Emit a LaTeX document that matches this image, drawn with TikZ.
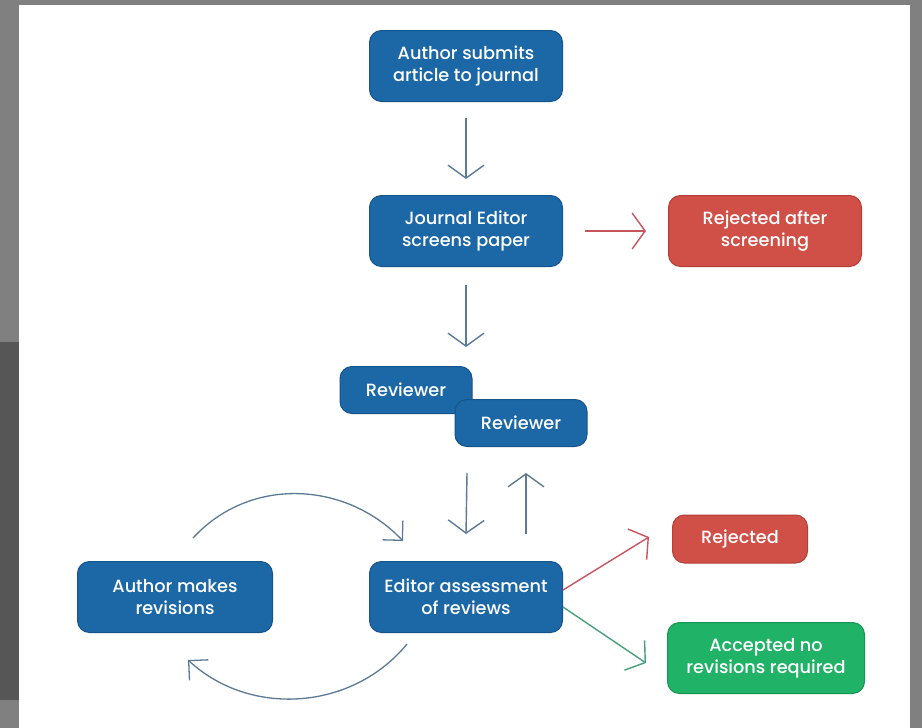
\documentclass[tikz,border=0pt]{standalone}
\usepackage{fontspec}
\setmainfont{Poppins}[UprightFont={* Medium}]
\usetikzlibrary{arrows.meta,calc}
\definecolor{bluebox}{RGB}{28,104,166}
\definecolor{blueedge}{RGB}{22,84,140}
\definecolor{redbox}{RGB}{208,80,72}
\definecolor{rededge}{RGB}{180,62,58}
\definecolor{greenbox}{RGB}{32,178,102}
\definecolor{greenedge}{RGB}{24,150,84}
\definecolor{arrowgray}{RGB}{92,122,150}
\definecolor{arrowred}{RGB}{200,84,94}
\definecolor{arrowgreen}{RGB}{70,160,125}
\definecolor{framelight}{RGB}{128,128,128}
\definecolor{framedark}{RGB}{86,86,86}
\begin{document}
\begin{tikzpicture}[x=1pt,y=-1pt,
  box/.style={rounded corners=12pt, fill=bluebox, draw=blueedge, line width=1pt,
    text=white, align=center, inner sep=0pt,
    font=\fontsize{17.7}{22}\selectfont,
    minimum width=193pt, minimum height=71pt},
  redbox/.style={box, fill=redbox, draw=rededge},
  greenbox/.style={box, fill=greenbox, draw=greenedge},
  revbox/.style={box, minimum width=132pt, minimum height=47pt},
  arr/.style={draw=arrowgray, line width=1.4pt, -{Straight Barb[length=13pt,width=36pt]}},
  carr/.style={draw=arrowgray, line width=1.3pt, -{Straight Barb[length=14pt,width=28pt]}}
]
\useasboundingbox (0,0) rectangle (922,728);
% frame
\fill[framelight] (0,0) rectangle (922,728);
\fill[framedark] (0,342) rectangle (19,700);
\fill[white] (19,5) rectangle (910,728);

% nodes
\node[box] (sub) at (466,66) {Author submits\\article to journal};
\node[box] (scr) at (466,231) {Journal Editor\\screens paper};
\node[redbox] (rejs) at (765,231) {Rejected after\\screening};
\node[revbox] (rev1) at (406,390) {Reviewer};
\node[revbox] (rev2) at (521,423) {Reviewer};
\node[box] (ed) at (466,597) {Editor assessment\\of reviews};
\node[box, minimum width=195pt] (ar) at (175,597) {Author makes\\revisions};
\node[redbox, minimum width=135pt, minimum height=48pt] (rej) at (740,539) {Rejected};
\node[greenbox, minimum width=197pt] (acc) at (766,658) {Accepted no\\revisions required};

% straight connectors
\draw[arr] ([yshift=-16pt]sub.south) -- ([yshift=16pt]scr.north);
\draw[arr, draw=arrowred] ([xshift=22pt]scr.east) -- ([xshift=-22pt]rejs.west);
\coordinate (revin) at (466,347);
\draw[arr] ([yshift=-18pt]scr.south) -- (revin);
\draw[arr] ([xshift=-54pt,yshift=-26pt]rev2.south) -- ([yshift=27pt]ed.north);
\draw[arr] ([xshift=60pt,yshift=27pt]ed.north) -- ([xshift=5pt,yshift=-26pt]rev2.south);
\draw[arr, draw=arrowred] ([yshift=7pt]ed.east) -- ([xshift=-23pt,yshift=2pt]rej.west);
\draw[arr, draw=arrowgreen] ([yshift=-10pt]ed.east) -- ([xshift=-21pt,yshift=-5pt]acc.west);

% curved connectors
\coordinate (c1s) at ($(ar.north)+(18,-23)$);
\coordinate (c1e) at ($(ed.north)+(-63,-20)$);
\coordinate (c2s) at ($(ed.south)+(-59,11)$);
\coordinate (c2e) at ($(ar.south)+(13,27)$);
\draw[carr] (c1s) .. controls (250,476) and (346,481) .. (c1e);
\draw[carr] (c2s) .. controls (353,710) and (251,718) .. (c2e);
\end{tikzpicture}
\end{document}
